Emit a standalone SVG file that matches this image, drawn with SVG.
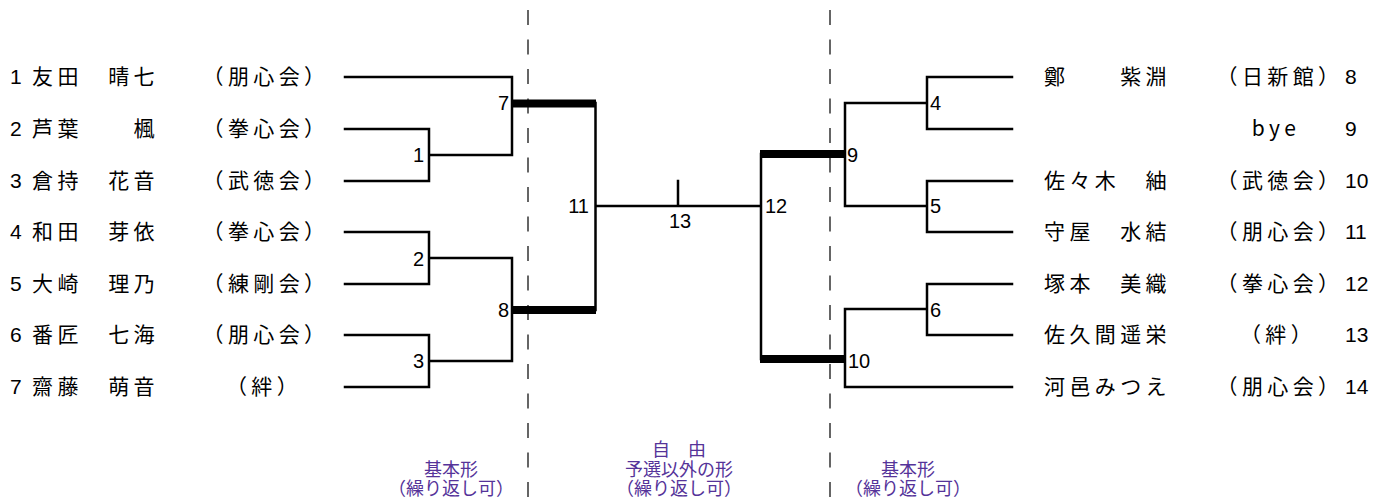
<svg xmlns="http://www.w3.org/2000/svg" width="1375" height="498" viewBox="0 0 1375 498">
<style>
.ln{stroke:#000;stroke-width:2.5;fill:none;stroke-linecap:square}
.tk{stroke:#000;stroke-width:8;fill:none}
.ds{stroke:#333;stroke-width:1.5;stroke-dasharray:15 14.5}
.nm{font-family:"Noto Sans CJK JP","Noto Sans CJK SC",sans-serif;font-size:21px;letter-spacing:4.4px;fill:#000}
.af{font-family:"Noto Sans CJK JP","Noto Sans CJK SC",sans-serif;font-size:21px;letter-spacing:4.4px;fill:#000;text-anchor:middle}
.no{font-family:"Liberation Sans",Arial,sans-serif;font-size:21px;fill:#000}
.mn{font-family:"Liberation Sans",Arial,sans-serif;font-size:20px;fill:#000}
.lb{font-family:"Liberation Serif","Noto Sans CJK JP",serif;font-size:18px;fill:#553399;text-anchor:middle}
</style>
<g id="dividers">
<line class="ds" x1="528" y1="10" x2="528" y2="498"/>
<line class="ds" x1="830" y1="10" x2="830" y2="498"/>
</g>
<g id="connectors">
<path class="ln" d="M345 77H512V155M345 129H429V181H345M429 155H512"/>
<path class="ln" d="M345 232H429V284H345M429 258H512V361M345 335H429V387H345M429 361H512"/>
<path class="ln" d="M595.5 103V310M595.5 206H761M678 181V206M761 154V359"/>
<path class="ln" d="M1012 77H927V129H1012M927 103H845V206H927M1012 181H927V232H1012"/>
<path class="ln" d="M1012 284H927V335H1012M927 309H845V387H1012"/>
<path class="tk" d="M513 103.5H596M513 310H596M760 154H845M760 359H845"/>
</g>
<g id="match-labels">
<text class="mn" x="509" y="110" text-anchor="end">7</text>
<text class="mn" x="424" y="162" text-anchor="end">1</text>
<text class="mn" x="424" y="266" text-anchor="end">2</text>
<text class="mn" x="509" y="317" text-anchor="end">8</text>
<text class="mn" x="424" y="368" text-anchor="end">3</text>
<text class="mn" x="589" y="213" text-anchor="end">11</text>
<text class="mn" x="680" y="228" text-anchor="middle">13</text>
<text class="mn" x="765" y="213">12</text>
<text class="mn" x="847" y="162">9</text>
<text class="mn" x="930" y="110">4</text>
<text class="mn" x="930" y="213">5</text>
<text class="mn" x="930" y="317">6</text>
<text class="mn" x="848" y="368">10</text>
</g>
<g id="p1"><text class="no" x="10" y="84">1</text><text class="nm" x="32" y="84">友田　晴七</text><text class="af" x="266" y="84">（朋心会）</text></g>
<g id="p2"><text class="no" x="10" y="136">2</text><text class="nm" x="32" y="136">芦葉　　楓</text><text class="af" x="266" y="136">（拳心会）</text></g>
<g id="p3"><text class="no" x="10" y="188">3</text><text class="nm" x="32" y="188">倉持　花音</text><text class="af" x="266" y="188">（武徳会）</text></g>
<g id="p4"><text class="no" x="10" y="239">4</text><text class="nm" x="32" y="239">和田　芽依</text><text class="af" x="266" y="239">（拳心会）</text></g>
<g id="p5"><text class="no" x="10" y="291">5</text><text class="nm" x="32" y="291">大崎　理乃</text><text class="af" x="266" y="291">（練剛会）</text></g>
<g id="p6"><text class="no" x="10" y="342">6</text><text class="nm" x="32" y="342">番匠　七海</text><text class="af" x="266" y="342">（朋心会）</text></g>
<g id="p7"><text class="no" x="10" y="394">7</text><text class="nm" x="32" y="394">齋藤　萌音</text><text class="af" x="264" y="394">（絆）</text></g>
<g id="p8"><text class="nm" x="1044" y="84">鄭　　紫淵</text><text class="af" x="1280" y="84">（日新館）</text><text class="no" x="1345" y="84">8</text></g>
<g id="p9"><text class="af" x="1276" y="136">bye</text><text class="no" x="1345" y="136">9</text></g>
<g id="p10"><text class="nm" x="1044" y="188">佐々木　紬</text><text class="af" x="1280" y="188">（武徳会）</text><text class="no" x="1345" y="188">10</text></g>
<g id="p11"><text class="nm" x="1044" y="239">守屋　水結</text><text class="af" x="1280" y="239">（朋心会）</text><text class="no" x="1345" y="239">11</text></g>
<g id="p12"><text class="nm" x="1044" y="291">塚本　美織</text><text class="af" x="1280" y="291">（拳心会）</text><text class="no" x="1345" y="291">12</text></g>
<g id="p13"><text class="nm" x="1044" y="342">佐久間遥栄</text><text class="af" x="1278" y="342">（絆）</text><text class="no" x="1345" y="342">13</text></g>
<g id="p14"><text class="nm" x="1044" y="394">河邑みつえ</text><text class="af" x="1280" y="394">（朋心会）</text><text class="no" x="1345" y="394">14</text></g>
<g id="notes">
<text class="lb" x="451" y="476">基本形</text>
<text class="lb" x="451" y="495">（繰り返し可）</text>
<text class="lb" x="679" y="456">自　由</text>
<text class="lb" x="679" y="476">予選以外の形</text>
<text class="lb" x="679" y="495">（繰り返し可）</text>
<text class="lb" x="908" y="476">基本形</text>
<text class="lb" x="908" y="495">（繰り返し可）</text>
</g>
</svg>
